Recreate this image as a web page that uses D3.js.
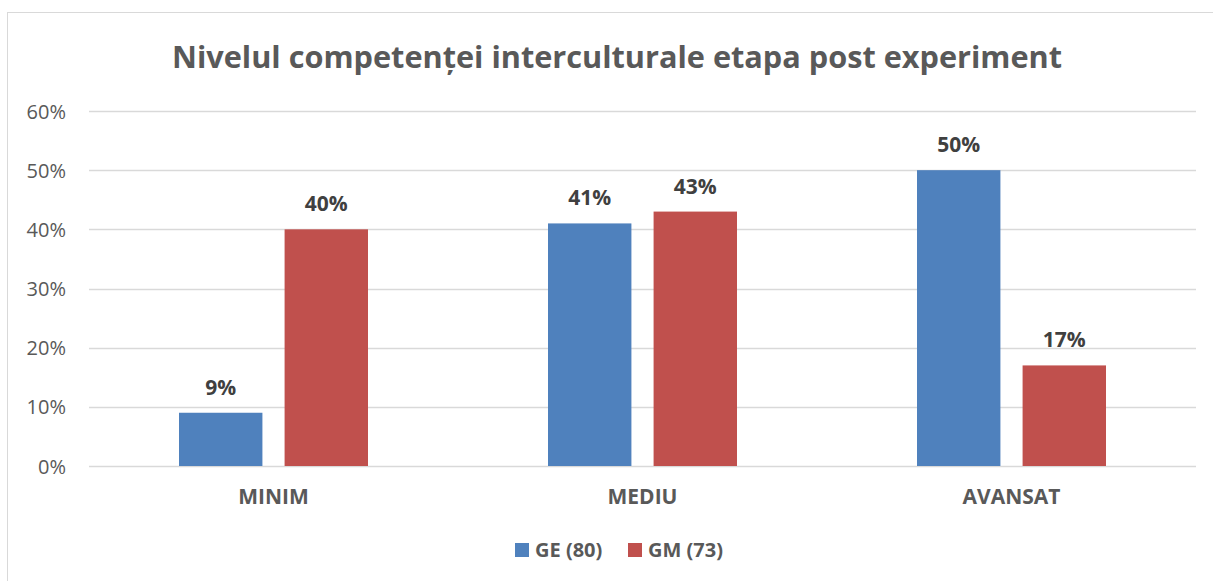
<!DOCTYPE html>
<html><head><meta charset="utf-8">
<script src="https://cdn.jsdelivr.net/npm/d3@7"></script>
<style>body{margin:0;background:#fff}svg{display:block}</style>
</head><body>
<svg id="c" width="1213" height="581"></svg>
<script>
const categories = ["MINIM", "MEDIU", "AVANSAT"];
const seriesNames = ["GE (80)", "GM (73)"];
const geValues = [0.09, 0.41, 0.50];
const gmValues = [0.40, 0.43, 0.17];
const yTicks = [0, 0.1, 0.2, 0.3, 0.4, 0.5, 0.6];
const colors = ["#4F81BD", "#C0504D"];
const title = "Nivelul competenței interculturale etapa post experiment";

(function () {
const svg = d3.select("#c");
const font = "'Open Sans', 'Liberation Sans', sans-serif";

svg.append("rect").attr("x", 7.5).attr("y", 12.5).attr("width", 1220).attr("height", 600)
  .attr("fill", "#fff").attr("stroke", "#d9d9d9").attr("stroke-width", 1);

const pLeft = 89, pRight = 1196, pTop = 111, pBottom = 466;
const y = d3.scaleLinear().domain([0, 0.6]).range([pBottom, pTop]);
const x0 = d3.scaleBand().domain(categories).range([pLeft, pRight]).paddingInner(0).paddingOuter(0);
const x1 = d3.scaleBand().domain(seriesNames).range([90, 279]).paddingInner(0.21);

svg.append("g").selectAll("line").data(yTicks).join("line")
  .attr("x1", pLeft).attr("x2", pRight)
  .attr("y1", d => Math.round(y(d)) + 0.5).attr("y2", d => Math.round(y(d)) + 0.5)
  .attr("stroke", "#d9d9d9").attr("stroke-width", 1.3);

const yAxis = d3.axisLeft(y).tickValues(yTicks).tickFormat(d3.format(".0%")).tickSize(0).tickPadding(0);
const ya = svg.append("g").attr("transform", `translate(66,0)`).call(yAxis);
ya.select(".domain").remove();
ya.selectAll("text").attr("font-family", font).attr("font-size", 20).attr("fill", "#595959").attr("dy", "0.35em");

const xAxis = d3.axisBottom(x0).tickSize(0).tickPadding(0);
const xa = svg.append("g").attr("transform", `translate(0,${pBottom})`).call(xAxis);
xa.select(".domain").remove();
xa.selectAll("text").attr("font-family", font).attr("font-size", 21).attr("font-weight", "bold").attr("fill", "#595959")
  .attr("y", 38).attr("dy", null);

const data = categories.map((c, i) => ({cat: c, vals: [geValues[i], gmValues[i]]}));

const groups = svg.append("g").selectAll("g").data(data).join("g")
  .attr("transform", d => `translate(${x0(d.cat)},0)`);

groups.selectAll("rect").data(d => d.vals.map((v, j) => ({v, s: seriesNames[j], j})))
  .join("rect")
  .attr("x", d => x1(d.s)).attr("width", x1.bandwidth())
  .attr("y", d => y(d.v)).attr("height", d => y(0) - y(d.v))
  .attr("fill", d => colors[d.j]);

groups.selectAll("text").data(d => d.vals.map((v, j) => ({v, s: seriesNames[j], j})))
  .join("text")
  .attr("x", d => x1(d.s) + x1.bandwidth() / 2)
  .attr("y", d => y(d.v) - 18)
  .attr("text-anchor", "middle")
  .attr("font-family", font).attr("font-size", 21).attr("font-weight", "bold").attr("fill", "#404040")
  .text(d => d3.format(".0%")(d.v));

svg.append("text").attr("x", 617).attr("y", 68).attr("text-anchor", "middle")
  .attr("font-family", font).attr("font-size", 30).attr("font-weight", "bold").attr("fill", "#595959")
  .attr("textLength", 890).attr("lengthAdjust", "spacingAndGlyphs")
  .text(title);

const legendX = [515, 628];
const lg = svg.append("g").selectAll("g").data(seriesNames).join("g")
  .attr("transform", (d, i) => `translate(${legendX[i]},543)`);
lg.append("rect").attr("width", 14).attr("height", 14).attr("fill", (d, i) => colors[i]);
lg.append("text").attr("x", 20).attr("y", 14)
  .attr("font-family", font).attr("font-size", 20).attr("font-weight", "bold").attr("fill", "#595959")
  .text(d => d);
})();
</script>
</body></html>
